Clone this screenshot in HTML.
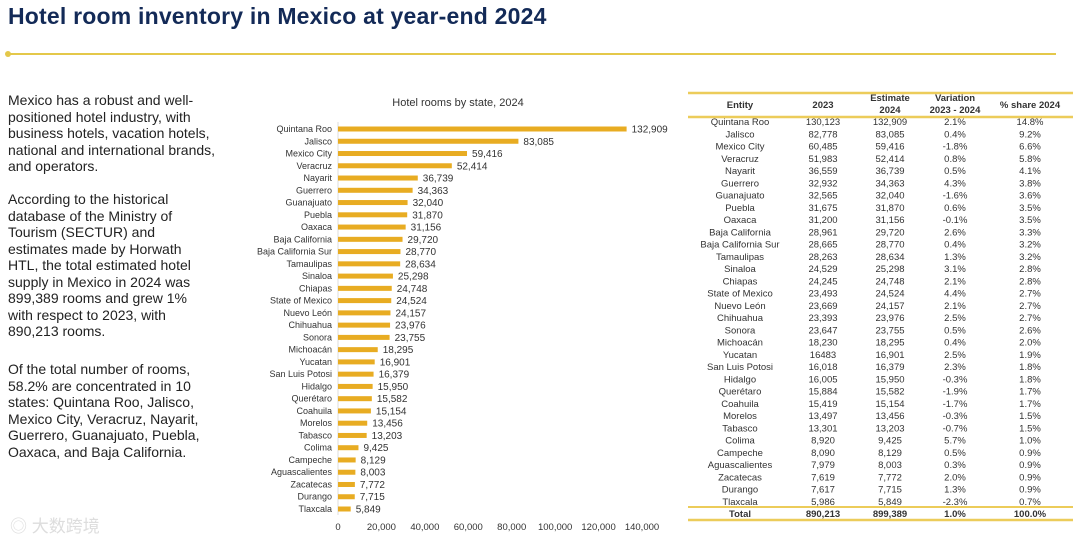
<!DOCTYPE html>
<html><head><meta charset="utf-8">
<style>
body{margin:0;width:1080px;height:542px;background:#fff;overflow:hidden;position:relative;font-family:"Liberation Sans",Arial,sans-serif;}
.title{position:absolute;left:8px;top:3px;font-size:23px;font-weight:bold;color:#132a57;letter-spacing:0.2px;}
.rule{position:absolute;left:8px;top:53px;width:1048px;height:2px;background:#e4c84a;}
.dot{position:absolute;left:5px;top:51px;width:6px;height:6px;border-radius:50%;background:#e4c84a;}
.txt{position:absolute;left:8px;width:240px;font-size:14px;line-height:16.5px;color:#222;white-space:nowrap;}
svg{position:absolute;left:0;top:0;}
</style></head><body>
<div class="title">Hotel room inventory in Mexico at year-end 2024</div>
<div class="rule"></div>
<div class="dot"></div>
<div class="txt" style="top:92px">Mexico has a robust and well-<br>positioned hotel industry, with<br>business hotels, vacation hotels,<br>national and international brands,<br>and operators.</div>
<div class="txt" style="top:191px">According to the historical<br>database of the Ministry of<br>Tourism (SECTUR) and<br>estimates made by Horwath<br>HTL, the total estimated hotel<br>supply in Mexico in 2024 was<br>899,389 rooms and grew 1%<br>with respect to 2023, with<br>890,213 rooms.</div>
<div class="txt" style="top:361px">Of the total number of rooms,<br>58.2% are concentrated in 10<br>states: Quintana Roo, Jalisco,<br>Mexico City, Veracruz, Nayarit,<br>Guerrero, Guanajuato, Puebla,<br>Oaxaca, and Baja California.</div>
<div style="position:absolute;left:10px;top:512px;font-size:17px;color:#ddd;font-family:'Liberation Sans','Noto Sans CJK SC',sans-serif">◎ 大数跨境</div>
<svg id="chart" width="1080" height="542"></svg>
<script>
const states=["Quintana Roo","Jalisco","Mexico City","Veracruz","Nayarit","Guerrero","Guanajuato","Puebla","Oaxaca","Baja California","Baja California Sur","Tamaulipas","Sinaloa","Chiapas","State of Mexico","Nuevo León","Chihuahua","Sonora","Michoacán","Yucatan","San Luis Potosi","Hidalgo","Querétaro","Coahuila","Morelos","Tabasco","Colima","Campeche","Aguascalientes","Zacatecas","Durango","Tlaxcala"];
const rooms2024=[132909,83085,59416,52414,36739,34363,32040,31870,31156,29720,28770,28634,25298,24748,24524,24157,23976,23755,18295,16901,16379,15950,15582,15154,13456,13203,9425,8129,8003,7772,7715,5849];
const rooms2023=["130,123","82,778","60,485","51,983","36,559","32,932","32,565","31,675","31,200","28,961","28,665","28,263","24,529","24,245","23,493","23,669","23,393","23,647","18,230","16483","16,018","16,005","15,884","15,419","13,497","13,301","8,920","8,090","7,979","7,619","7,617","5,986"];
const variation=["2.1%","0.4%","-1.8%","0.8%","0.5%","4.3%","-1.6%","0.6%","-0.1%","2.6%","0.4%","1.3%","3.1%","2.1%","4.4%","2.1%","2.5%","0.5%","0.4%","2.5%","2.3%","-0.3%","-1.9%","-1.7%","-0.3%","-0.7%","5.7%","0.5%","0.3%","2.0%","1.3%","-2.3%"];
const share=["14.8%","9.2%","6.6%","5.8%","4.1%","3.8%","3.6%","3.5%","3.5%","3.3%","3.2%","3.2%","2.8%","2.8%","2.7%","2.7%","2.7%","2.6%","2.0%","1.9%","1.8%","1.8%","1.7%","1.7%","1.5%","1.5%","1.0%","0.9%","0.9%","0.9%","0.9%","0.7%"];
const ticks=[0,20000,40000,60000,80000,100000,120000,140000];
const total=["Total","890,213","899,389","1.0%","100.0%"];
const svg=document.getElementById('chart');const NS="http://www.w3.org/2000/svg";
function el(t,a,txt){const e=document.createElementNS(NS,t);for(const k in a)e.setAttribute(k,a[k]);if(txt!==undefined)e.textContent=txt;svg.appendChild(e);return e;}
const x0=338,xMax=140000,W=304;
const xs=v=>x0+v/xMax*W;
const ys=i=>129+i*(380/31);
const fmt=v=>v.toLocaleString('en-US');
let t=el('text',{x:458,y:106,'font-size':11,fill:'#333','text-anchor':'middle'},'Hotel rooms by state, 2024');


let ax=el('line',{x1:x0,x2:x0,y1:122,y2:515,stroke:'#ddd','stroke-width':1});


states.forEach((s,i)=>{
 const y=ys(i);
 let l=el('text',{x:332,y:y+3,'font-size':9,fill:'#333','text-anchor':'end'},s);
 
 
 let b=el('rect',{x:x0,y:y-2.5,width:xs(rooms2024[i])-x0,height:5,fill:'#e8ac22'});
 
 
 let v=el('text',{x:xs(rooms2024[i])+5,y:y+3.5,'font-size':10,fill:'#333'},fmt(rooms2024[i]));
 
 
});
ticks.forEach(v=>{
 let k=el('text',{x:xs(v),y:530,'font-size':9.5,fill:'#333','text-anchor':'middle'},fmt(v));
 
 
});
const cx=[740,823,890,955,1030];
function hl(y,w){let r=el('rect',{x:688,y:y-w/2,width:385,height:w,fill:'#eccc5a'});}
hl(93,2.5);hl(117,2.5);hl(507,2);hl(520,2.5);
const hdr=[["Entity"],["2023"],["Estimate","2024"],["Variation","2023 - 2024"],["% share 2024"]];
hdr.forEach((h,j)=>{h.forEach((s,k)=>{
 const y=h.length==1?108:101+k*12;
 let e=el('text',{x:cx[j],y:y,'font-size':9.5,'font-weight':'bold',fill:'#333','text-anchor':'middle'},s);
 
 
});});
states.forEach((s,i)=>{
 const y=125+i*(380/31);
 const row=[s,rooms2023[i],fmt(rooms2024[i]),variation[i],share[i]];
 row.forEach((c,j)=>{
  let e=el('text',{x:cx[j],y:y,'font-size':9.5,fill:'#333','text-anchor':'middle'},c);
  
  
 });
});
total.forEach((c,j)=>{
 let e=el('text',{x:cx[j],y:517,'font-size':9.5,'font-weight':'bold',fill:'#333','text-anchor':'middle'},c);
 
 
});
</script>
</body></html>
